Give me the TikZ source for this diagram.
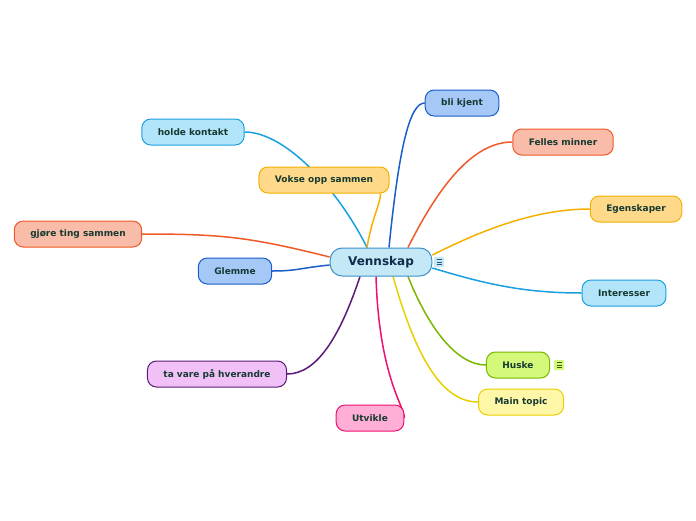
\documentclass[tikz,border=0pt]{standalone}
\usepackage{fontspec}
\setmainfont{DejaVu Sans}
\usetikzlibrary{backgrounds}
\definecolor{txtcol}{RGB}{22,58,50}
\definecolor{rootfill}{RGB}{197,232,247}
\definecolor{rootdraw}{RGB}{58,143,199}
\definecolor{bluefill}{RGB}{166,200,247}
\definecolor{bluedraw}{RGB}{26,95,200}
\definecolor{redfill}{RGB}{249,188,168}
\definecolor{reddraw}{RGB}{240,90,40}
\definecolor{orangefill}{RGB}{255,217,138}
\definecolor{orangedraw}{RGB}{245,176,0}
\definecolor{cyanfill}{RGB}{179,229,250}
\definecolor{cyandraw}{RGB}{26,160,224}
\definecolor{greenfill}{RGB}{212,249,122}
\definecolor{greendraw}{RGB}{122,184,0}
\definecolor{yellowfill}{RGB}{255,247,168}
\definecolor{yellowdraw}{RGB}{232,208,0}
\definecolor{pinkfill}{RGB}{255,174,214}
\definecolor{pinkdraw}{RGB}{240,16,110}
\definecolor{violetfill}{RGB}{240,192,247}
\definecolor{violetdraw}{RGB}{90,26,120}
\tikzset{
  topic/.style={draw,rectangle,rounded corners=9pt,line width=1pt,
    inner xsep=16pt,minimum height=26pt,text=txtcol,
    font=\fontsize{9}{10}\selectfont\bfseries},
  root/.style={draw=rootdraw,fill=rootfill,rectangle,rounded corners=12pt,
    line width=1pt,inner xsep=18pt,minimum height=28pt,text={rgb,255:red,16;green,42;blue,74},
    font=\fontsize{12}{14}\selectfont\bfseries},
  noteicon/.style={rectangle,minimum size=10pt,inner sep=0pt,rounded corners=1pt},
  link/.style={line width=1.5pt},
}
\begin{document}
\begin{tikzpicture}[x=1pt,y=-1pt]
  \useasboundingbox (0,0) rectangle (696,520);
  % central topic
  \node[root] (root) at (381,262) {Vennskap};
  \node[noteicon,fill=rootfill] (rootnote) at (439,262) {};
  \draw[line width=0.8pt,rootdraw!60!black] ([xshift=-2.5pt,yshift=-2.5pt]rootnote.center) -- ++(5,0)
    ([xshift=-2.5pt]rootnote.center) -- ++(5,0) ([xshift=-2.5pt,yshift=2.5pt]rootnote.center) -- ++(5,0);
  % right side
  \node[topic,draw=bluedraw,fill=bluefill] (blikjent) at (462,103) {bli kjent};
  \node[topic,draw=reddraw,fill=redfill] (minner) at (563,142) {Felles minner};
  \node[topic,draw=orangedraw,fill=orangefill] (egensk) at (636,209) {Egenskaper};
  \node[topic,draw=cyandraw,fill=cyanfill] (interesser) at (624,293) {Interesser};
  \node[topic,draw=greendraw,fill=greenfill] (huske) at (518,365) {Huske};
  \node[noteicon,fill=greenfill] (huskenote) at (559,365) {};
  \draw[line width=0.8pt,greendraw!50!black] ([xshift=-2.5pt,yshift=-2.5pt]huskenote.center) -- ++(5,0)
    ([xshift=-2.5pt]huskenote.center) -- ++(5,0) ([xshift=-2.5pt,yshift=2.5pt]huskenote.center) -- ++(5,0);
  \node[topic,draw=yellowdraw,fill=yellowfill] (maintopic) at (521,402) {Main topic};
  % bottom and left side
  \node[topic,draw=pinkdraw,fill=pinkfill] (utvikle) at (370,418) {Utvikle};
  \node[topic,draw=violetdraw,fill=violetfill] (tavare) at (217,374) {ta vare på hverandre};
  \node[topic,draw=bluedraw,fill=bluefill] (glemme) at (235,271) {Glemme};
  \node[topic,draw=reddraw,fill=redfill] (gjore) at (78,234) {gjøre ting sammen};
  \node[topic,draw=cyandraw,fill=cyanfill] (holde) at (193,132) {holde kontakt};
  \node[topic,draw=orangedraw,fill=orangefill] (vokse) at (324,180) {Vokse opp sammen};
  % connectors
  \begin{scope}[on background layer]
    \fill[white] (0,0) rectangle (696,520);
    \draw[link,bluedraw] ([xshift=8pt]root.north) .. controls +(10,-100) and +(-15,0) .. (blikjent.west);
    \draw[link,reddraw] ([xshift=27pt]root.north) .. controls +(30,-60) and +(-40,0) .. (minner.west);
    \draw[link,orangedraw] ([yshift=7pt]root.east) .. controls +(40,-20) and +(-60,0) .. (egensk.west);
    \draw[link,cyandraw] ([yshift=-6pt]root.east) .. controls +(50,15) and +(-60,0) .. (interesser.west);
    \draw[link,greendraw] ([xshift=27pt]root.south) .. controls +(20,50) and +(-30,0) .. (huske.west);
    \draw[link,yellowdraw] ([xshift=12pt]root.south) .. controls +(20,70) and +(-40,0) .. (maintopic.west);
    \draw[link,pinkdraw] ([xshift=-5pt]root.south) .. controls +(3,100) and +(0,-12) .. (utvikle.east);
    \draw[link,violetdraw] ([xshift=-21pt]root.south) .. controls +(-20,60) and +(30,0) .. (tavare.east);
    \draw[link,bluedraw] ([yshift=-3pt]root.west) .. controls +(-30,3) and +(25,0) .. (glemme.east);
    \draw[link,reddraw] ([yshift=5pt]root.west) .. controls +(-80,-20) and +(80,0) .. (gjore.east);
    \draw[link,cyandraw] ([xshift=-14pt]root.north) .. controls +(-30,-60) and +(40,0) .. (holde.east);
    \draw[link,orangedraw] ([xshift=-14pt]root.north) .. controls +(5,-30) and +(0,10) .. ([xshift=-9pt]vokse.south east);
  \end{scope}
\end{tikzpicture}
\end{document}
